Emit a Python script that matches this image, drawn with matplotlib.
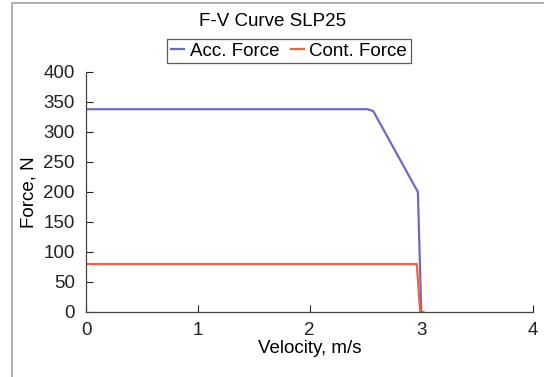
import matplotlib
matplotlib.use("Agg")
import matplotlib.pyplot as plt
from matplotlib.patches import Rectangle

plt.rcParams['font.family'] = ['Liberation Sans', 'DejaVu Sans']

# F-V curve points
acc_v = [0.0, 2.52, 2.57, 2.97, 3.00]
acc_f = [338, 338, 335, 200, 0]
cont_v = [0.0, 2.96, 2.99, 3.02]
cont_f = [80, 80, 0, 0]

xticks = [0, 1, 2, 3, 4]
yticks = [0, 50, 100, 150, 200, 250, 300, 350, 400]

fig = plt.figure(figsize=(5.44, 3.77), dpi=100)
# grey frame edge visible at top/left of the screenshot
fig.patches.append(Rectangle((12 / 544, -0.1), 1.2, 1.1 - 3 / 377,
                             transform=fig.transFigure, fill=False,
                             edgecolor='#a0a0a0', linewidth=1.2))

ax = fig.add_axes([86 / 544, 1 - 312 / 377, 447 / 544, 240 / 377])
ax.plot(acc_v, acc_f, color='#6b6bc2', linewidth=1.6, label='Acc. Force')
ax.plot(cont_v, cont_f, color='#f0643c', linewidth=1.6, label='Cont. Force')

ax.set_xlim(0, 4)
ax.set_ylim(0, 400)
ax.set_xticks(xticks)
ax.set_yticks(yticks)
ax.tick_params(direction='in', length=5, labelsize=13.5, colors='#222222',
               width=0.8)
ax.tick_params(axis='x', pad=7)
ax.tick_params(axis='y', pad=8)
for s in ['top', 'right']:
    ax.spines[s].set_visible(False)
for s in ['left', 'bottom']:
    ax.spines[s].set_color('#444444')
    ax.spines[s].set_linewidth(0.9)

ax.set_xlabel('Velocity, m/s', fontsize=13.5, labelpad=1)
ax.set_ylabel('Force, N', fontsize=13.5, labelpad=4)

fig.text(273 / 544, 1 - 22 / 377, 'F-V Curve SLP25', ha='center',
         va='center', fontsize=13.5)
leg = fig.legend(loc='center', bbox_to_anchor=(289 / 544, 1 - 51 / 377),
                 ncol=2, fontsize=13.5, frameon=True, fancybox=False,
                 handlelength=0.7, handletextpad=0.3, columnspacing=0.6,
                 borderpad=0.2, borderaxespad=0)
leg.get_frame().set_edgecolor('#333333')
leg.get_frame().set_linewidth(0.9)

fig.savefig('out.png', dpi=100)
